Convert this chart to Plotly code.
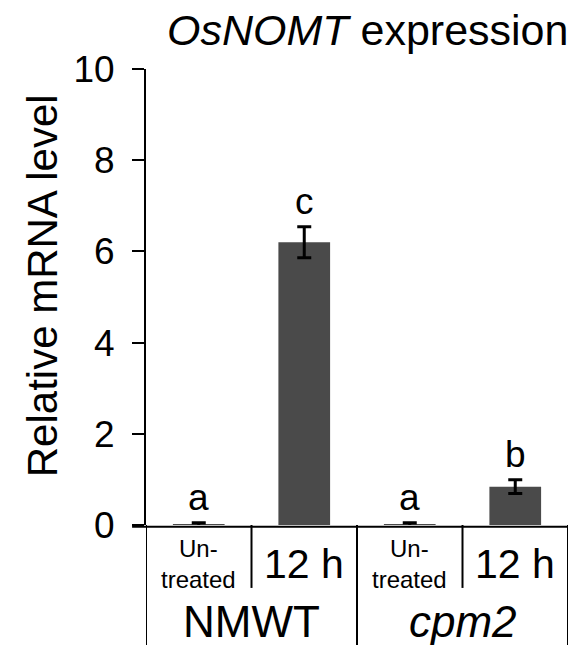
import plotly.graph_objects as go

# ---- data ----
genotypes = ["NMWT", "cpm2"]
conditions = ["Un-<br>treated", "12 h", "Un-<br>treated", "12 h"]
values = [0.01, 6.2, 0.01, 0.84]
errors = [0.04, 0.34, 0.04, 0.15]
letters = ["a", "c", "a", "b"]
y_ticks = [0, 2, 4, 6, 8, 10]

FONT = "Liberation Sans, Arial, sans-serif"
x_idx = list(range(len(values)))

fig = go.Figure()
fig.add_trace(go.Bar(
    x=x_idx, y=values, width=0.49,
    marker=dict(color="#4a4a4a", line=dict(width=0)),
    error_y=dict(type="data", array=errors, visible=True,
                 color="black", thickness=3, width=7),
    showlegend=False,
))

ann = []
# significance letters
for i, (v, e, l) in enumerate(zip(values, errors, letters)):
    ann.append(dict(x=i, y=v + e, xref="x", yref="y", text=l, showarrow=False,
                    yanchor="bottom", yshift=3, font=dict(size=37, family=FONT, color="black")))
# condition labels
for i, c in enumerate(conditions):
    small = c.startswith("Un")
    ann.append(dict(x=i, y=-0.085, xref="x", yref="paper", text=c, showarrow=False,
                    yanchor="middle", font=dict(size=24 if small else 41, family=FONT, color="black")))
# genotype labels
for g_i, g in enumerate(genotypes):
    txt = g if g_i == 0 else "<i>%s</i>" % g
    ann.append(dict(x=g_i * 2 + 0.5, y=-0.212, xref="x", yref="paper", text=txt, showarrow=False,
                    yanchor="middle", font=dict(size=44, family=FONT, color="black")))
# title
ann.append(dict(x=1.005, y=1.085, xref="paper", yref="paper", text="<i>OsNOMT</i> expression",
                showarrow=False, xanchor="right", yanchor="middle",
                font=dict(size=43, family=FONT, color="black")))
# y label
ann.append(dict(x=-0.245, y=0.525, xref="paper", yref="paper", text="Relative mRNA level",
                textangle=-90, showarrow=False, xanchor="center", yanchor="middle",
                font=dict(size=42, family=FONT, color="black")))

line = dict(color="black", width=2)
shapes = [
    # x axis baseline extended left
    dict(type="line", xref="paper", yref="paper", x0=-0.033, x1=1.0, y0=-0.004, y1=-0.004, line=line),
    # outer verticals below plot
    dict(type="line", xref="x", yref="paper", x0=-0.5, x1=-0.5, y0=0, y1=-0.27, line=line),
    dict(type="line", xref="x", yref="paper", x0=1.5, x1=1.5, y0=0, y1=-0.27, line=line),
    dict(type="line", xref="x", yref="paper", x0=3.5, x1=3.5, y0=0, y1=-0.27, line=line),
    # short verticals between conditions
    dict(type="line", xref="x", yref="paper", x0=0.5, x1=0.5, y0=0, y1=-0.138, line=line),
    dict(type="line", xref="x", yref="paper", x0=2.5, x1=2.5, y0=0, y1=-0.138, line=line),
]

fig.update_layout(
    width=577, height=645,
    margin=dict(l=146, r=9, t=69, b=120),
    plot_bgcolor="white", paper_bgcolor="white",
    annotations=ann, shapes=shapes,
    xaxis=dict(range=[-0.5, 3.5], showticklabels=False, showgrid=False, zeroline=False,
               showline=False, ticks=""),
    yaxis=dict(range=[0, 10], tickvals=y_ticks, showgrid=False, zeroline=False,
               showline=True, linecolor="black", linewidth=2, ticks="outside",
               ticklen=12, tickwidth=2, tickcolor="black", ticklabelstandoff=10,
               tickfont=dict(size=37, family=FONT, color="black")),
)

fig.write_html("out.html")
